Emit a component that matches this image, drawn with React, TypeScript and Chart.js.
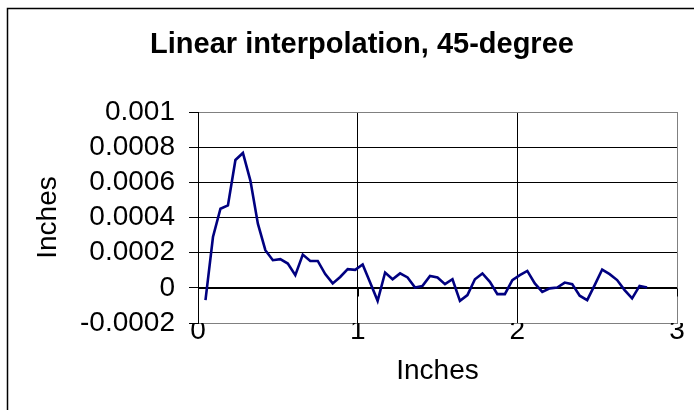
import React, { useEffect, useRef } from "react";
import { Chart, registerables } from "chart.js";

Chart.register(...registerables);

const TITLE = "Linear interpolation, 45-degree";
const X_TITLE = "Inches";
const Y_TITLE = "Inches";

const xValues = [
  0.0469, 0.0938, 0.1406, 0.1875, 0.2344, 0.2813, 0.3281, 0.375, 0.4219, 0.4688,
  0.5156, 0.5625, 0.6094, 0.6563, 0.7031, 0.75, 0.7969, 0.8438, 0.8906, 0.9375,
  0.9844, 1.0313, 1.0781, 1.125, 1.1719, 1.2188, 1.2656, 1.3125, 1.3594, 1.4063,
  1.4531, 1.5, 1.5469, 1.5938, 1.6406, 1.6875, 1.7344, 1.7813, 1.8281, 1.875,
  1.9219, 1.9688, 2.0156, 2.0625, 2.1094, 2.1563, 2.2031, 2.25, 2.2969, 2.3438,
  2.3906, 2.4375, 2.4844, 2.5313, 2.5781, 2.625, 2.6719, 2.7188, 2.7656, 2.8125,
];

const yValues = [
  -0.00007, 0.000289, 0.00045, 0.000469, 0.000727, 0.000767, 0.00061, 0.000365, 0.000214, 0.000157,
  0.000163, 0.000138, 0.000072, 0.000189, 0.000153, 0.000153, 0.000078, 0.000025, 0.000062, 0.000106,
  0.000102, 0.000133, 0.00003, -0.000074, 0.000087, 0.000049, 0.000082, 0.000059, 0.000002, 0.000011,
  0.000068, 0.000059, 0.000021, 0.000049, -0.000074, -0.000041, 0.000049, 0.000082, 0.000034, -0.000036,
  -0.000036, 0.000044, 0.000072, 0.000096, 0.000025, -0.000023, -0.000003, 0.000002, 0.00003, 0.000021,
  -0.000045, -0.00007, 0.000015, 0.000104, 0.000078, 0.000044, -0.000013, -0.00006, 0.000011, 0.000002,
];

const xTickValues = [0, 1, 2, 3];
const xTickLabels = ["0", "1", "2", "3"];
const yTickValues = [-0.0002, 0, 0.0002, 0.0004, 0.0006, 0.0008, 0.001];
const yTickLabels = ["-0.0002", "0", "0.0002", "0.0004", "0.0006", "0.0008", "0.001"];

const FONT = '"Liberation Sans", Arial, Helvetica, sans-serif';

export default function App() {
  const ref = useRef<HTMLCanvasElement | null>(null);

  useEffect(() => {
    const canvas = ref.current;
    if (!canvas) return;

    const framePlugin = {
      id: "frame",
      beforeDraw(chart: any) {
        const ctx = chart.ctx;
        ctx.save();
        ctx.fillStyle = "#ffffff";
        ctx.fillRect(0, 0, chart.width, chart.height);
        ctx.strokeStyle = "#000000";
        ctx.lineWidth = 1.5;
        ctx.beginPath();
        ctx.moveTo(7.5, chart.height + 2);
        ctx.lineTo(7.5, 8.5);
        ctx.lineTo(chart.width + 2, 8.5);
        ctx.stroke();
        ctx.restore();
      },
    };

    const titlePlugin = {
      id: "customTitle",
      afterDraw(chart: any) {
        const ctx = chart.ctx;
        ctx.save();
        ctx.fillStyle = "#000000";
        ctx.font = `bold 29px ${FONT}`;
        ctx.textAlign = "center";
        ctx.textBaseline = "alphabetic";
        ctx.fillText(TITLE, 362, 53);
        ctx.restore();
      },
    };

    const zeroTicksPlugin = {
      id: "zeroTicks",
      beforeDatasetsDraw(chart: any) {
        const ctx = chart.ctx;
        const xs = chart.scales.x;
        const ys = chart.scales.y;
        const y0 = Math.round(ys.getPixelForValue(0)) + 0.5;
        ctx.save();
        ctx.strokeStyle = "#000000";
        ctx.lineWidth = 1;
        ctx.beginPath();
        ctx.moveTo(xs.left, y0);
        ctx.lineTo(xs.right, y0);
        xTickValues.forEach((v) => {
          const px = Math.round(xs.getPixelForValue(v)) + 0.5;
          ctx.moveTo(px, y0);
          ctx.lineTo(px, y0 + 8);
        });
        ctx.stroke();
        ctx.restore();
      },
    };

    const chart = new Chart(canvas, {
      type: "line",
      data: {
        datasets: [
          {
            data: xValues.map((x, i) => ({ x, y: yValues[i] })),
            borderColor: "#000080",
            borderWidth: 2.6,
            pointRadius: 0,
            tension: 0,
            fill: false,
          },
        ],
      },
      options: {
        responsive: false,
        animation: false,
        devicePixelRatio: 1,
        layout: { padding: { left: 27, right: 17, top: 112, bottom: 18 } },
        plugins: {
          legend: { display: false },
          title: { display: false },
          tooltip: { enabled: false },
        },
        scales: {
          x: {
            type: "linear",
            min: 0,
            max: 3,
            afterBuildTicks: (scale: any) => {
              scale.ticks = xTickValues.map((v) => ({ value: v }));
            },
            afterFit: (scale: any) => {
              scale.height = 69;
            },
            ticks: {
              color: "#000000",
              font: { family: FONT, size: 28, lineHeight: 1.2 },
              padding: -9,
              maxRotation: 0,
              autoSkip: false,
              callback: (_v: any, i: number) => xTickLabels[i],
            },
            grid: {
              drawTicks: false,
              lineWidth: 1,
              color: (c: any) => (c.tick && c.tick.value === 3 ? "#808080" : "#000000"),
            },
            border: { display: true, color: "#808080", width: 1 },
            title: {
              display: true,
              text: X_TITLE,
              color: "#000000",
              font: { family: FONT, size: 28, lineHeight: 1.2 },
              padding: { top: 4, bottom: 4 },
            },
          },
          y: {
            type: "linear",
            min: -0.0002,
            max: 0.001,
            afterBuildTicks: (scale: any) => {
              scale.ticks = yTickValues.map((v) => ({ value: v }));
            },
            afterFit: (scale: any) => {
              scale.width = 171;
            },
            ticks: {
              color: "#000000",
              font: { family: FONT, size: 28, lineHeight: 1.2 },
              padding: 14,
              autoSkip: false,
              callback: (_v: any, i: number) => yTickLabels[i],
            },
            grid: {
              drawTicks: true,
              tickLength: 9,
              tickColor: "#000000",
              lineWidth: 1,
              color: (c: any) => {
                const v = c.tick ? c.tick.value : 0;
                return v === 0.001 || v === -0.0002 ? "#808080" : "#000000";
              },
            },
            border: { display: true, color: "#000000", width: 1 },
            title: {
              display: true,
              text: Y_TITLE,
              color: "#000000",
              font: { family: FONT, size: 28, lineHeight: 1.2 },
              padding: { top: 4, bottom: 4 },
            },
          },
        },
      },
      plugins: [framePlugin, titlePlugin, zeroTicksPlugin],
    } as any);

    return () => chart.destroy();
  }, []);

  return (
    <div style={{ position: "absolute", left: 0, top: 0, width: 694, height: 410 }}>
      <canvas ref={ref} width={694} height={410} style={{ display: "block" }} />
    </div>
  );
}
